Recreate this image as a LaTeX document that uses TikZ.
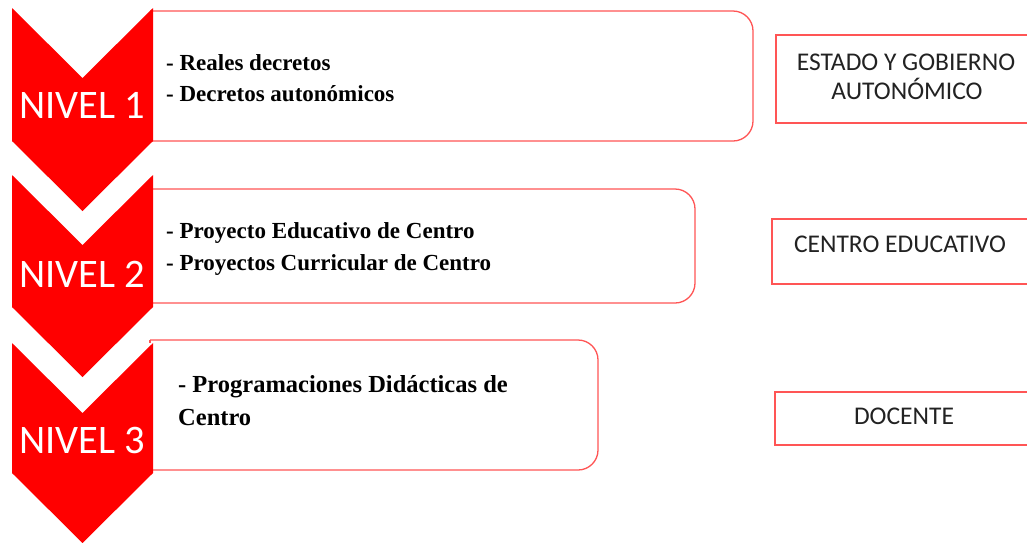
\documentclass[tikz,border=0pt]{standalone}
\usepackage{fontspec}
\setmainfont{Liberation Serif}
\newfontfamily\calfont{Carlito}
\definecolor{chev}{HTML}{FF0000}
\definecolor{edge}{HTML}{FF5555}
\definecolor{txt}{HTML}{222222}
\begin{document}
\begin{tikzpicture}[x=1pt,y=-1pt,
  chevron/.style={fill=chev,draw=none},
  levelbox/.style={draw=edge,line width=1.3pt,rounded corners=20pt},
  rolebox/.style={draw=edge,line width=1.3pt,fill=white},
  itemtxt/.style={font=\bfseries\fontsize{23}{31}\selectfont,anchor=base west,inner sep=0pt},
  bigitemtxt/.style={itemtxt,font=\bfseries\fontsize{24.5}{33}\selectfont},
  leveltxt/.style={font=\calfont\fontsize{40.5}{44}\selectfont,text=white,anchor=base,inner sep=0pt},
  roletxt/.style={font=\calfont\fontsize{25.5}{29}\selectfont,text=txt,anchor=base,inner sep=0pt}]
\useasboundingbox (0,0) rectangle (1027,542);
\clip (0,0) rectangle (1027,542);
% level boxes (square on the left, rounded on the right)
\draw[levelbox] (150,11) -- (753,11) -- (753,141) -- (150,141);
\draw[levelbox] (150,189) -- (695,189) -- (695,303) -- (150,303);
\draw[levelbox] (150,340) -- (598,340) -- (598,470) -- (150,470);
\draw[edge,line width=1.3pt] (150,340) -- (150,343);
% chevrons
\fill[chevron] (12,8) -- (82.5,78) -- (153,8) -- (153,141) -- (82.5,211) -- (12,141) -- cycle;
\fill[chevron] (12,175) -- (82.5,245) -- (153,175) -- (153,307) -- (82.5,377) -- (12,307) -- cycle;
\fill[chevron] (12,343) -- (82.5,413) -- (153,343) -- (153,473) -- (82.5,543) -- (12,473) -- cycle;
\node[leveltxt] (n1) at (82.5,118) {NIVEL 1};
\node[leveltxt] (n2) at (82.5,287) {NIVEL 2};
\node[leveltxt] (n3) at (82.5,453) {NIVEL 3};
% items
\node[itemtxt] (a1) at (166,70) {- Reales decretos};
\node[itemtxt] (a2) at (166,101) {- Decretos autonómicos};
\node[itemtxt] (b1) at (166,238) {- Proyecto Educativo de Centro};
\node[itemtxt] (b2) at (166,270) {- Proyectos Curricular de Centro};
\node[bigitemtxt] (c1) at (178,392) {- Programaciones Didácticas de};
\node[bigitemtxt] (c2) at (178,425) {Centro};
% role boxes
\draw[rolebox] (776,35) rectangle (1040,123);
\draw[rolebox] (772,219) rectangle (1040,284);
\draw[rolebox] (775,392) rectangle (1040,445);
\node[roletxt] (r1) at (906,70) {ESTADO Y GOBIERNO};
\node[roletxt] (r1b) at (907,99) {AUTONÓMICO};
\node[roletxt] (r2) at (900,252) {CENTRO EDUCATIVO};
\node[roletxt] (r3) at (904,424) {DOCENTE};
\end{tikzpicture}
\end{document}
